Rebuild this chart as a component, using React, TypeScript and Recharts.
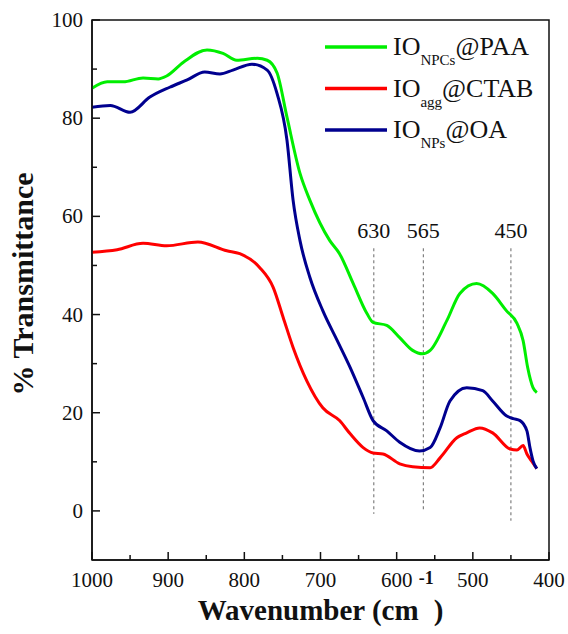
import { LineChart, Line, XAxis, YAxis, ReferenceArea, ReferenceLine, Legend } from "recharts"

const serif = "Liberation Serif, DejaVu Serif, Times New Roman, serif"

// FTIR spectra, wavenumber (cm-1) vs % transmittance
const paaWavenumber = [1000, 980, 959, 933, 913, 902, 880, 849, 828, 810, 783, 770, 757, 744, 727, 714, 688, 675, 657, 639, 631, 613, 596, 579, 566, 556, 534, 517, 495, 474, 456, 442, 434, 428, 421, 416]
const paaT = [86.1, 87.4, 87.4, 88.2, 88.0, 88.6, 91.4, 93.9, 93.2, 91.8, 92.2, 91.8, 89.2, 80.2, 68.8, 63.3, 55.1, 52.4, 46.3, 40.2, 38.4, 37.8, 35.3, 32.7, 32.0, 32.7, 38.8, 44.3, 46.3, 44.3, 40.8, 38.2, 34.7, 29.2, 25.1, 24.1]

const ctabWavenumber = [1000, 967, 933, 902, 861, 823, 806, 780, 762, 749, 736, 718, 697, 675, 661, 644, 631, 618, 596, 579, 556, 543, 521, 508, 491, 474, 451, 442, 434, 429, 423, 416]
const ctabT = [52.7, 53.2, 54.5, 54.0, 54.8, 53.0, 52.4, 49.6, 45.5, 39.4, 33.3, 26.5, 21.0, 18.4, 15.7, 12.9, 11.8, 11.6, 9.6, 9.0, 8.8, 10.8, 14.9, 15.9, 16.9, 15.9, 12.6, 12.4, 13.3, 11.6, 10.2, 8.6]

const oaWavenumber = [1000, 976, 950, 924, 898, 875, 852, 832, 815, 790, 770, 757, 744, 736, 727, 714, 697, 678, 661, 644, 631, 613, 596, 570, 556, 543, 530, 508, 487, 474, 456, 447, 438, 429, 425, 421, 416]
const oaT = [82.2, 82.6, 81.2, 84.3, 86.3, 87.8, 89.4, 89.0, 89.8, 91.0, 89.8, 85.0, 75.5, 63.3, 55.1, 47.6, 40.8, 34.7, 29.2, 23.1, 18.4, 16.3, 14.0, 12.2, 12.9, 16.9, 22.4, 25.1, 24.5, 22.4, 19.4, 18.8, 18.4, 16.3, 12.9, 10.2, 8.6]

const xTicks = [1000, 950, 900, 850, 800, 750, 700, 650, 600, 550, 500, 450, 400]
const xLabelled = [1000, 900, 800, 700, 600, 500, 400]
const yTicks = [0, 10, 20, 30, 40, 50, 60, 70, 80, 90, 100]
const yLabelled = [0, 20, 40, 60, 80, 100]

// marked absorption bands
const bandWavenumber = [630, 565, 450]
const bandLabels = ["630", "565", "450"]
const bandTop = 53.5
const bandBottom = [-0.6, 0, -2]

const zip = (xs: number[], ys: number[]) => xs.map((x, i) => ({ x, t: ys[i] }))

const series = [
  { name: "IONPCs@PAA", sub: "NPCs", tail: "@PAA", color: "#00ee00", data: zip(paaWavenumber, paaT) },
  { name: "IOagg@CTAB", sub: "agg", tail: "@CTAB", color: "#ff0000", data: zip(ctabWavenumber, ctabT) },
  { name: "IONPs@OA", sub: "NPs", tail: "@OA", color: "#00008f", data: zip(oaWavenumber, oaT) },
]

function XTick(props: any) {
  const { x, y, payload } = props
  const major = xLabelled.includes(payload.value)
  return (
    <g>
      <line x1={x} x2={x} y1={y} y2={y - (major ? 8 : 5)} stroke="#111" strokeWidth={1.5} />
      {major && (
        <text x={x} y={y + 27} textAnchor="middle" style={{ fontSize: 21, fontFamily: serif }} fill="#111">
          {payload.value}
        </text>
      )}
    </g>
  )
}

function YTick(props: any) {
  const { x, y, payload } = props
  const major = yLabelled.includes(payload.value)
  return (
    <g>
      <line x1={x} x2={x + (major ? 8 : 5)} y1={y} y2={y} stroke="#111" strokeWidth={1.5} />
      {major && (
        <text x={x - 9} y={y + 7} textAnchor="end" style={{ fontSize: 21, fontFamily: serif }} fill="#111">
          {payload.value}
        </text>
      )}
    </g>
  )
}

function XTitle(props: any) {
  const { viewBox } = props
  const cx = viewBox.x + viewBox.width / 2
  return (
    <text x={cx} y={viewBox.y + 60} textAnchor="middle" style={{ fontSize: 29, fontWeight: "bold", fontFamily: serif }} fill="#111">
      Wavenumber (cm
      <tspan style={{ fontSize: 18 }} dy={-36}>-1</tspan>
      <tspan dy={36}>)</tspan>
    </text>
  )
}

function YTitle(props: any) {
  const { viewBox } = props
  const cy = viewBox.y + viewBox.height / 2 - 6
  return (
    <text x={33} y={cy} transform={`rotate(-90, 33, ${cy})`} textAnchor="middle" style={{ fontSize: 30, fontWeight: "bold", fontFamily: serif }} fill="#111">
      % Transmittance
    </text>
  )
}

function SeriesLegend({ payload }: any) {
  // keep legend rows in the order the series are declared
  const rows = series.map((s) => {
    const p = (payload || []).find((e: any) => e.value === s.name)
    return { ...s, color: p ? p.color : s.color }
  })
  return (
    <svg width={230} height={130} style={{ display: "block" }}>
      {rows.map((s, i) => {
        const cy = 27 + i * 41.5
        return (
          <g key={s.name}>
            <line x1={5} x2={67} y1={cy} y2={cy} stroke={s.color} strokeWidth={3.5} />
            <text x={73} y={cy + 8} style={{ fontSize: 26, fontFamily: serif }} fill="#111">
              IO
              <tspan style={{ fontSize: 15 }} dy={10}>{s.sub}</tspan>
              <tspan dy={-10}>{s.tail}</tspan>
            </text>
          </g>
        )
      })}
    </svg>
  )
}

export default function App() {
  return (
    <div style={{ position: "absolute", left: 0, top: 0, background: "#fff", fontFamily: serif }}>
      <LineChart width={568} height={634} margin={{ top: 20, right: 19, bottom: 0, left: 0 }}>
        <XAxis
          type="number"
          dataKey="x"
          domain={[400, 1000]}
          reversed
          allowDataOverflow
          ticks={xTicks}
          interval={0}
          height={74}
          tickSize={0}
          tickMargin={0}
          tickLine={false}
          tick={(p: any) => <XTick {...p} />}
          axisLine={{ stroke: "#111", strokeWidth: 1.5 }}
          label={{ content: (p: any) => <XTitle {...p} /> }}
        />
        <YAxis
          type="number"
          domain={[-10, 100]}
          allowDataOverflow
          ticks={yTicks}
          interval={0}
          width={92}
          tickSize={0}
          tickMargin={0}
          tickLine={false}
          tick={(p: any) => <YTick {...p} />}
          axisLine={{ stroke: "#111", strokeWidth: 1.5 }}
          label={{ content: (p: any) => <YTitle {...p} /> }}
        />
        <ReferenceArea x1={1000} x2={400} y1={-10} y2={100} fill="none" stroke="#111" strokeWidth={1.5} />
        {bandWavenumber.map((w, i) => (
          <ReferenceLine
            key={w}
            segment={[{ x: w, y: bandTop }, { x: w, y: bandBottom[i] }]}
            stroke="#666"
            strokeWidth={1}
            strokeDasharray="3 3"
            label={{ value: bandLabels[i], position: "top", offset: 10, fontSize: 22, fill: "#111", style: { fontFamily: serif } }}
          />
        ))}
        {series.map((s) => (
          <Line
            key={s.name}
            name={s.name}
            data={s.data}
            dataKey="t"
            type="monotone"
            stroke={s.color}
            strokeWidth={3}
            dot={false}
            isAnimationActive={false}
          />
        ))}
        <Legend
          layout="vertical"
          align="center"
          verticalAlign="middle"
          wrapperStyle={{ left: 320, top: 20, width: 230 }}
          content={(p: any) => <SeriesLegend payload={p.payload} />}
        />
      </LineChart>
    </div>
  )
}
